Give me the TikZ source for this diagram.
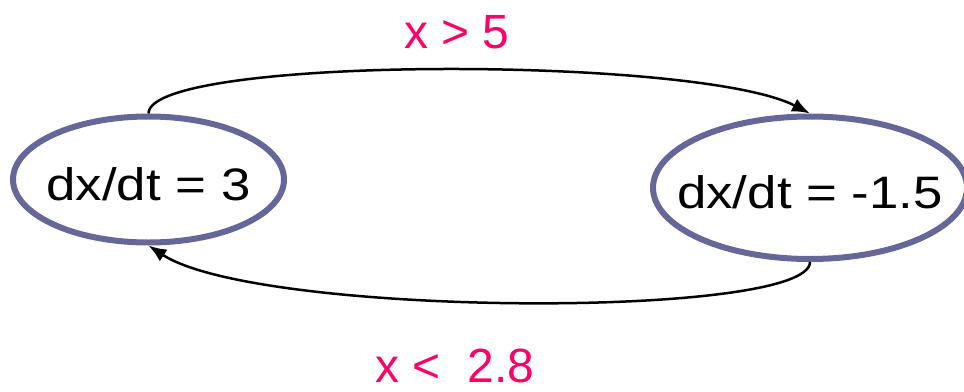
\documentclass[tikz,border=0pt]{standalone}
\usepackage{fontspec}
\setmainfont{Liberation Sans}
\newfontfamily\statefont[FakeStretch=1.16]{Liberation Sans}
\usetikzlibrary{shapes.geometric,arrows.meta}
\definecolor{stateblue}{RGB}{102,102,153}
\definecolor{guardpink}{RGB}{255,0,102}
\tikzset{
  statenode/.style={ellipse, draw=stateblue, line width=6pt, fill=white,
    inner xsep=-80pt, inner ysep=-30pt, text height=41pt, text depth=0pt,
    font=\statefont\fontsize{45.5}{50}\selectfont, text=black},
  transarrow/.style={line width=2.5pt, -{Latex[length=18pt,width=14pt]}},
  guardlabel/.style={anchor=base, text=guardpink, inner sep=0pt,
    text depth=0pt, font=\fontsize{48}{54}\selectfont}
}
\begin{document}
\begin{tikzpicture}[x=1pt,y=-1pt]
\useasboundingbox (0,0) rectangle (964,391);
\node[statenode, minimum width=271pt, minimum height=126pt] (s1) at (148.5,179.5) {dx/dt = 3};
\node[statenode, minimum width=314pt, minimum height=142.5pt] (s2) at (810,187.75) {dx/dt = -1.5};
\draw[transarrow] (s1.north) .. controls +(0,-58) and +(-112,-58) .. (s2.north);
\draw[transarrow] (s2.south) .. controls +(0,57) and +(110,72) .. (s1.south);
\node[guardlabel] (g1) at (457,48) {x > 5};
\node[guardlabel] (g2) at (455,382) {x < \ 2.8};
\end{tikzpicture}
\end{document}
